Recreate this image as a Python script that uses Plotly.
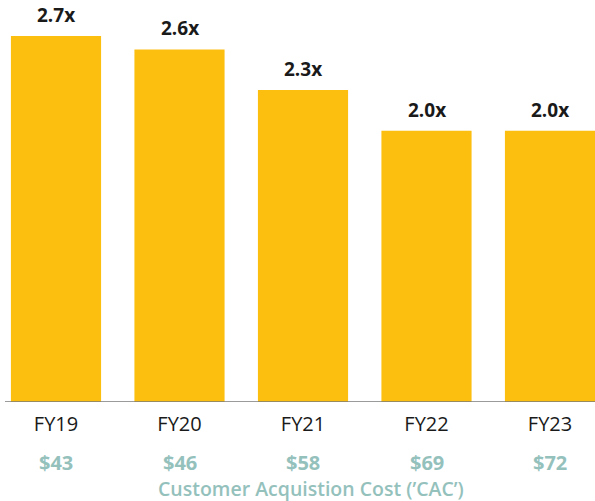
import plotly.graph_objects as go

categories = ["FY19", "FY20", "FY21", "FY22", "FY23"]
ltv_cac = [2.7, 2.6, 2.3, 2.0, 2.0]
value_labels = ["2.7x", "2.6x", "2.3x", "2.0x", "2.0x"]
cac_labels = ["$43", "$46", "$58", "$69", "$72"]
axis_title = "Customer Acquistion Cost (’CAC’)"

YELLOW = "#FCBF10"
TEAL = "#94C1BC"
FONT = "Open Sans"

idx = list(range(len(categories)))

fig = go.Figure()
fig.add_trace(go.Bar(
    x=idx, y=ltv_cac, width=0.73,
    marker=dict(color=YELLOW, line=dict(width=0)),
    hoverinfo="skip",
))

for i, (v, lab) in enumerate(zip(ltv_cac, value_labels)):
    fig.add_annotation(x=i, y=v, xref="x", yref="y", text=lab, showarrow=False,
                       yanchor="bottom", yshift=6,
                       font=dict(family=FONT, size=19, color="#1a1a1a", weight="bold"))

for i, lab in enumerate(cac_labels):
    fig.add_annotation(x=i, y=0, xref="x", yref="paper", text=lab, showarrow=False,
                       yanchor="middle", yshift=-60,
                       font=dict(family=FONT, size=20, color=TEAL, weight="bold"))

fig.add_annotation(x=311/595, y=0, xref="paper", yref="paper", text=axis_title,
                   showarrow=False, yanchor="middle", yshift=-86,
                   font=dict(family=FONT, size=19.5, color=TEAL, weight=600))

fig.add_shape(type="line", xref="paper", yref="y", x0=5/595, x1=1, y0=0, y1=0,
              line=dict(color="#7a7a7a", width=1.5))

fig.update_layout(
    width=595, height=501,
    margin=dict(l=0, r=0, t=0, b=99),
    paper_bgcolor="white", plot_bgcolor="white",
    showlegend=False,
    xaxis=dict(range=[-56/123.5, 539/123.5], tickmode="array", tickvals=idx,
               ticktext=categories, showgrid=False, zeroline=False, showline=False,
               ticks="", ticklabelstandoff=8,
               tickfont=dict(family=FONT, size=20, color="#1a1a1a")),
    yaxis=dict(range=[0, 402/135.6], visible=False, showgrid=False, zeroline=False),
)

fig.write_html("out.html", config={"displayModeBar": False},
               post_script="document.body.style.margin='0';document.body.style.padding='0';")
